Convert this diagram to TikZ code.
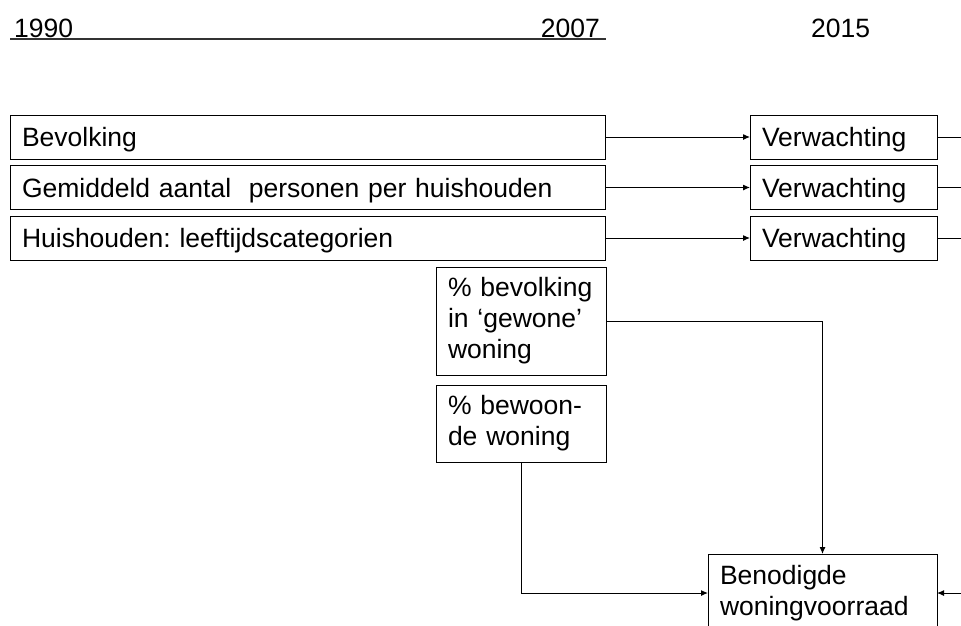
\documentclass[tikz,border=0pt]{standalone}
\usepackage{fontspec}
\setmainfont{Liberation Sans}
\usetikzlibrary{arrows.meta}
\frenchspacing

\tikzset{
  tekst/.style={inner sep=0pt, font=\fontsize{26.5}{31}\selectfont},
  vak/.style={draw, line width=1pt, anchor=north west, outer sep=0pt, inner xsep=12pt, inner ysep=0pt, align=left, font=\fontsize{26.5}{31}\selectfont},
  rij/.style={vak, text depth=0pt, minimum height=44pt},
  lijn/.style={line width=1pt},
  pijl/.style={line width=1pt, -{Latex[length=7pt,width=6pt]}},
}

\begin{document}
\begin{tikzpicture}[x=1pt,y=-1pt]
\clip (0,0) rectangle (961,625);
\coordinate (rand) at (966,0);

 \node[tekst,anchor=base west] (j1990) at (14,37) {1990};
 \node[tekst,anchor=base east] (j2007) at (600,37) {2007};
 \node[tekst,anchor=base west] (j2015) at (811,37) {2015};
 \draw[line width=1.3pt,black!80] ([xshift=-4pt,yshift=-2pt]j1990.base west)--([xshift=6pt,yshift=-2pt]j2007.base east);

 \node[rij,text width=571pt] (bev) at (10,115) {Bevolking};
 \node[rij,text width=571pt] (gem) at (10,165.5) {Gemiddeld aantal\ \ personen per huishouden};
 \node[rij,text width=571pt] (hh) at (10,216) {Huishouden: leeftijdscategorien};

 \node[rij,text width=163pt] (verw1) at (750,115) {Verwachting};
 \node[rij,text width=163pt] (verw2) at (750,165.5) {Verwachting};
 \node[rij,text width=163pt] (verw3) at (750,216) {Verwachting};

 \node[vak,text width=146pt,minimum height=108pt] (pctA) at (436,267) {\% bevolking\\in ‘gewone’\\woning};
 \node[vak,text width=146pt,minimum height=77pt] (pctB) at (436,385) {\% bewoon-\\de woning};
 \node[vak,text width=205pt,minimum height=78pt] (benodigd) at (708,554) {Benodigde\\woningvoorraad};

 \draw[pijl] (bev.east)--(verw1.west);
 \draw[pijl] (gem.east)--(verw2.west);
 \draw[pijl] (hh.east)--(verw3.west);
 \draw[lijn] (verw1.east)--(verw1.east -| rand);
 \draw[lijn] (verw2.east)--(verw2.east -| rand);
 \draw[lijn] (verw3.east)--(verw3.east -| rand);

 \draw[pijl] (pctA.east) -| (benodigd.north);
 \draw[pijl] (pctB.south) |- (benodigd.west);
 \draw[pijl] (benodigd.east -| rand)--(benodigd.east);
\end{tikzpicture}
\end{document}
